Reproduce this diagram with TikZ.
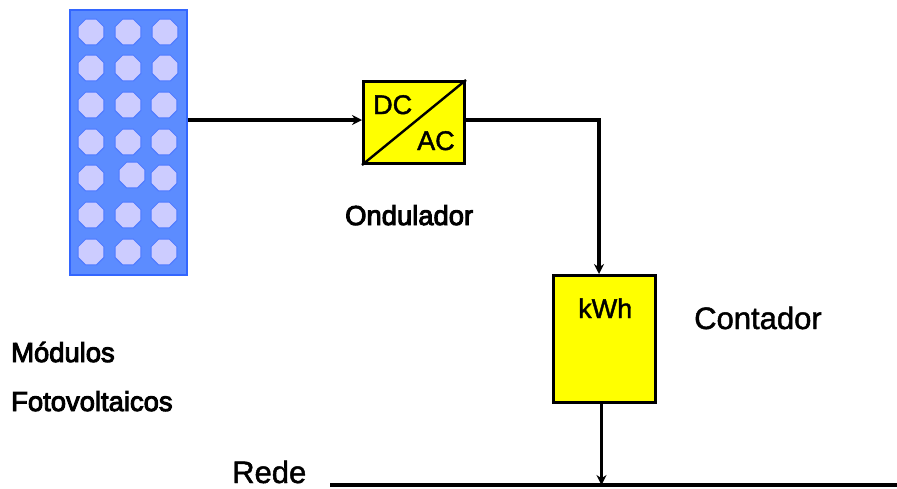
\documentclass[tikz,border=0pt]{standalone}
\usepackage{fontspec}
\setmainfont{Liberation Sans}
\newfontfamily\heavyfont[FakeBold=3.5]{Liberation Sans}
\newfontfamily\mediumfont[FakeBold=1.5]{Liberation Sans}
\usetikzlibrary{shapes.geometric,arrows.meta,positioning,calc}
\definecolor{panelblue}{RGB}{92,140,255}
\definecolor{panelline}{RGB}{51,102,255}
\definecolor{celllilac}{RGB}{204,204,255}
\definecolor{cellline}{RGB}{77,121,255}
\definecolor{boxyellow}{RGB}{255,255,0}

\begin{document}
\begin{tikzpicture}[x=1pt, y=-1pt,
    panel/.style={rectangle, draw=panelline, line width=2pt, fill=panelblue,
        minimum width=117pt, minimum height=265pt, inner sep=0pt},
    cell/.style={regular polygon, regular polygon sides=8,
        draw=cellline, line width=1pt, fill=celllilac, minimum size=28pt, inner sep=0pt},
    box/.style={rectangle, draw=black, line width=3pt, fill=boxyellow, inner sep=0pt},
    arr/.style={-{Stealth[length=10pt,width=10pt]}, line width=3.2pt},
    lbl/.style={font=\mediumfont\fontsize{27}{30}\selectfont, inner sep=0pt, anchor=base west},
    biglbl/.style={font=\mediumfont\fontsize{31}{34}\selectfont, inner sep=0pt, anchor=base west},
    heavylbl/.style={font=\heavyfont\fontsize{27.4}{30}\selectfont, inner sep=0pt, anchor=base west}
]
    \useasboundingbox (0,0) rectangle (897,488);

    % === Solar panel ===
    \node[panel] (panel) at (128,142) {};
    \foreach \px/\py in {91/32,128/32,165/32,91/68,128/68,165/68,
        91/105,128/105,164/105,91/142,128/142,164/142,
        91/178,132/175,164/178,91/215,128/215,164/215,
        91/252,128/252,164/252}
        \node[cell] (cell\px-\py) at (\px,\py) {};
    \node[heavylbl] (modules) at (11,362) {Módulos};
    \node[heavylbl] (modulestwo) at (11,411) {Fotovoltaicos};

    % === Inverter ===
    \node[box, minimum width=101pt, minimum height=82pt] (inverter) at (414,122.5) {};
    \draw[line width=2.4pt] (inverter.south west) -- (inverter.north east);
    \node[lbl] (dc) at (373,114) {DC};
    \node[lbl] (ac) at (417,150) {AC};
    \node[heavylbl] (inverterlabel) at (345,225) {Ondulador};

    % === Meter ===
    \node[box, minimum width=102pt, minimum height=127pt] (meter) at (604.5,339) {};
    \node[lbl] (kwh) at (578,318) {kWh};
    \node[biglbl] (meterlabel) at (694,329) {Contador};

    % === Grid ===
    \coordinate (buswest) at (330,485);
    \coordinate (buseast) at (897,485);
    \draw[line width=4.5pt] (buswest) -- (buseast);
    \node[biglbl] (grid) at (232,483) {Rede};

    % Connectors
    \draw[arr] ([yshift=2.5pt]panel.east |- inverter.west) -- ([yshift=2.5pt]inverter.west);
    \draw[arr] ([yshift=2.5pt]inverter.east) -| ([xshift=-5.5pt]meter.north);
    \draw[arr] ([xshift=-3pt]meter.south) -- ([xshift=-3pt]meter.south |- buswest);
\end{tikzpicture}
\end{document}
